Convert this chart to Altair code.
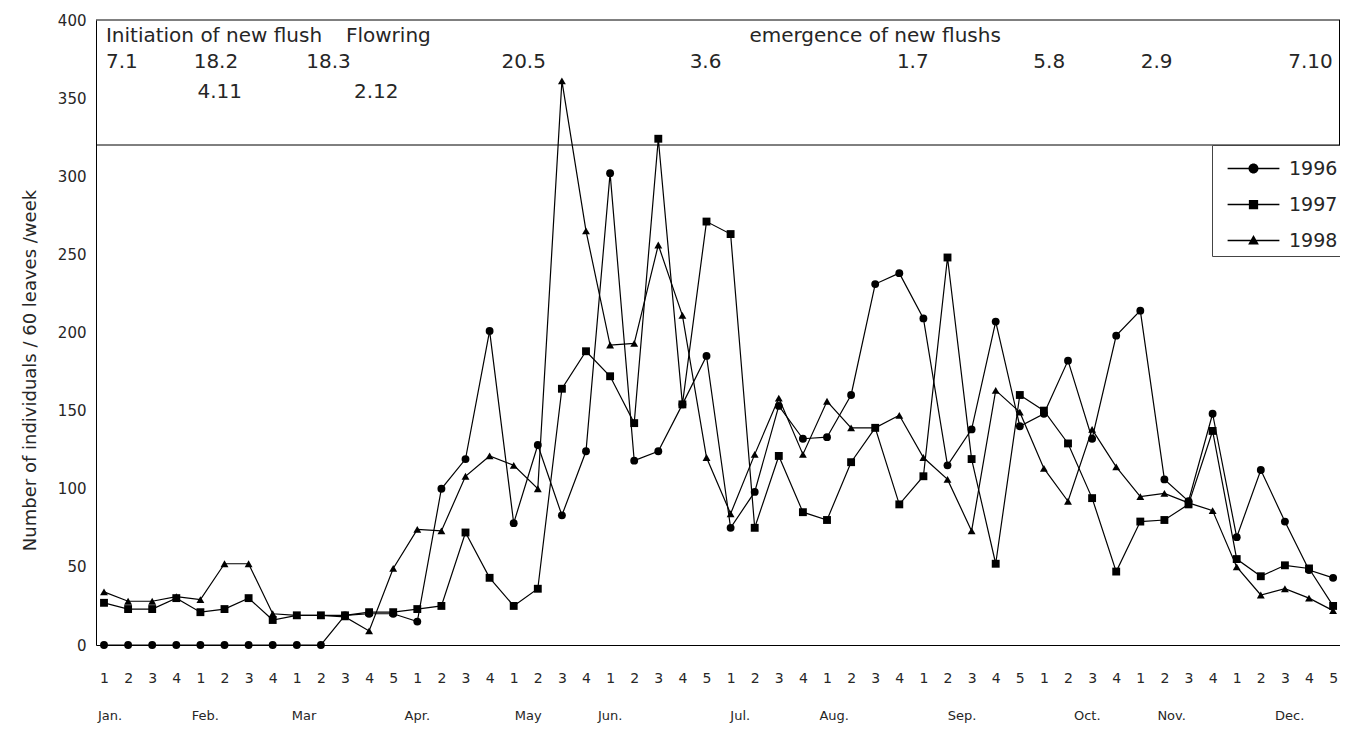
import altair as alt
import pandas as pd

years = ["1996", "1997", "1998"]
marker_shapes = ["circle", "square", "triangle-up"]

week_labels = ["1", "2", "3", "4",
               "1", "2", "3", "4",
               "1", "2", "3", "4", "5",
               "1", "2", "3", "4",
               "1", "2", "3", "4",
               "1", "2", "3", "4", "5",
               "1", "2", "3", "4",
               "1", "2", "3", "4",
               "1", "2", "3", "4", "5",
               "1", "2", "3", "4",
               "1", "2", "3", "4",
               "1", "2", "3", "4", "5"]

months = ["Jan.", "Feb.", "Mar", "Apr.", "May", "Jun.", "Jul.", "Aug.", "Sep.", "Oct.", "Nov.", "Dec."]
month_week = [1.25, 5.2, 9.3, 14.0, 18.6, 22.0, 27.4, 31.3, 36.6, 41.8, 45.3, 50.2]

counts_1996 = [0, 0, 0, 0, 0, 0, 0, 0, 0, 0, 19, 20, 20,
               15, 100, 119, 201,
               78, 128, 83, 124,
               302, 118, 124, 154, 185,
               75, 98, 153, 132,
               133, 160, 231, 238,
               209, 115, 138, 207, 140,
               148, 182, 132, 198,
               214, 106, 92, 148,
               69, 112, 79, 48, 43]
counts_1997 = [27, 23, 23, 30, 21, 23, 30, 16, 19, 19, 19, 21, 21,
               23, 25, 72, 43,
               25, 36, 164, 188,
               172, 142, 324, 154, 271,
               263, 75, 121, 85,
               80, 117, 139, 90,
               108, 248, 119, 52, 160,
               150, 129, 94, 47,
               79, 80, 90, 137,
               55, 44, 51, 49, 25]
counts_1998 = [34, 28, 28, 31, 29, 52, 52, 20, 19, 19, 18, 9, 49,
               74, 73, 108, 121,
               115, 100, 361, 265,
               192, 193, 256, 211, 120,
               84, 122, 158, 122,
               156, 139, 139, 147,
               120, 106, 73, 163, 149,
               113, 92, 138, 114,
               95, 97, 91, 86,
               50, 32, 36, 30, 22]

y_ticks = [0, 50, 100, 150, 200, 250, 300, 350, 400]
band_top = 400
band_bottom = 320

notes_text = ["Initiation of new flush", "Flowring", "emergence of new flushs",
              "7.1", "18.2", "18.3", "20.5", "3.6", "1.7", "5.8", "2.9", "7.10",
              "4.11", "2.12"]
notes_week = [1.08, 11.04, 27.78,
              1.08, 4.72, 9.39, 17.49, 25.3, 33.9, 39.56, 44.02, 50.14,
              4.88, 11.37]
notes_value = [390, 390, 390,
               373, 373, 373, 373, 373, 373, 373, 373, 373,
               354, 354]

weeks = list(range(1, len(week_labels) + 1))
df = pd.DataFrame({
    "week": weeks * 3,
    "year": [y for y in years for _ in weeks],
    "value": counts_1996 + counts_1997 + counts_1998,
})
notes_df = pd.DataFrame({"text": notes_text, "week": notes_week, "value": notes_value})
month_df = pd.DataFrame({"month": months, "week": month_week})

W, H = 1244, 625
FONT = "DejaVu Sans"
INK = "#262626"

x_scale = alt.Scale(domain=[0.668, 52.286], nice=False, zero=False)
y_scale = alt.Scale(domain=[0, 400], nice=False)

label_expr = "[" + ",".join("'%s'" % s for s in week_labels) + "][datum.value - 1]"

x_axis = alt.Axis(values=weeks, labelExpr=label_expr, title=None, ticks=False,
                  tickSize=0, grid=False, labelPadding=26, labelFontSize=14,
                  labelOverlap=False, labelFlush=False, labelBound=False,
                  domainColor="black", domainWidth=1)
y_axis = alt.Axis(values=y_ticks, title="Number of individuals / 60 leaves /week",
                  ticks=False, tickSize=0, grid=False, labelPadding=10,
                  labelFontSize=15, titleFontSize=18, titleFontWeight="normal",
                  titleX=-66, titleY=350, titleAngle=270, titleAlign="center",
                  titleBaseline="middle", domainColor="black", domainWidth=1,
                  labelOverlap=False)


def X():
    return alt.X("week:Q", scale=x_scale, axis=x_axis)


def Y(field="value:Q"):
    return alt.Y(field, scale=y_scale, axis=y_axis)


lines = alt.Chart(df).mark_line(color="black", strokeWidth=1.2).encode(
    x=X(), y=Y(), detail="year:N")

point_layers = [
    alt.Chart(df).transform_filter(alt.datum.year == yr).mark_point(
        filled=True, color="black", opacity=1, size=62, shape=shp).encode(x=X(), y=Y())
    for yr, shp in zip(years, marker_shapes)
]

# legend symbols: a thin filled bar (the line) plus the marker, all filled
bar = "M-1.4,-0.035H1.4V0.035H-1.4Z"
legend_paths = [
    bar + "M0.27,0A0.27,0.27 0 1 1 -0.27,0A0.27,0.27 0 1 1 0.27,0Z",
    bar + "M-0.25,-0.25H0.25V0.25H-0.25Z",
    bar + "M0,-0.3L0.29,0.21H-0.29Z",
]
legend_layer = alt.Chart(df).transform_filter("datum.week < 0").mark_point(
    filled=True, color="black", opacity=1, size=1369).encode(
    x=X(), y=Y(),
    shape=alt.Shape("year:N", scale=alt.Scale(domain=years, range=legend_paths),
                    legend=alt.Legend(title=None, orient="none", legendX=1116, legendY=125,
                                      labelFont=FONT, labelFontSize=19, labelColor=INK,
                                      symbolSize=1369, symbolFillColor="black",
                                      symbolStrokeColor="black", symbolStrokeWidth=0,
                                      symbolOpacity=1, symbolOffset=18, labelOffset=17,
                                      rowPadding=7, padding=5, strokeColor="#444444",
                                      fillColor="white")))

top_rule = alt.Chart(pd.DataFrame({"v": [band_top]})).mark_rule(
    color="black", strokeWidth=1).encode(y=Y("v:Q"))
band_rule = alt.Chart(pd.DataFrame({"v": [band_bottom]})).mark_rule(
    color="black", strokeWidth=1).encode(y=Y("v:Q"))
right_rule = alt.Chart(pd.DataFrame({"a": [band_top], "b": [band_bottom]})).mark_rule(
    color="black", strokeWidth=1).encode(x=alt.value(W - 0.5), y=Y("a:Q"), y2="b:Q")

notes = alt.Chart(notes_df).mark_text(align="left", baseline="middle", font=FONT,
                                      fontSize=20, color=INK).encode(
    x=X(), y=Y(), text="text:N")

month_text = alt.Chart(month_df).mark_text(align="center", baseline="middle", font=FONT,
                                           fontSize=13, color=INK).encode(
    x=X(), y=alt.value(696), text="month:N")

chart = alt.layer(lines, *point_layers, legend_layer, top_rule, band_rule, right_rule,
                  notes, month_text).properties(
    width=W, height=H,
    padding={"left": 88, "top": 12, "right": 0, "bottom": 79},
    autosize=alt.AutoSizeParams(type="none"),
).configure_view(stroke=None).configure_axis(
    labelFont=FONT, titleFont=FONT, labelColor=INK, titleColor=INK
).configure_axisX(labelOverlap=False)

chart.save("out.html", embed_options={"renderer": "svg", "actions": False})
